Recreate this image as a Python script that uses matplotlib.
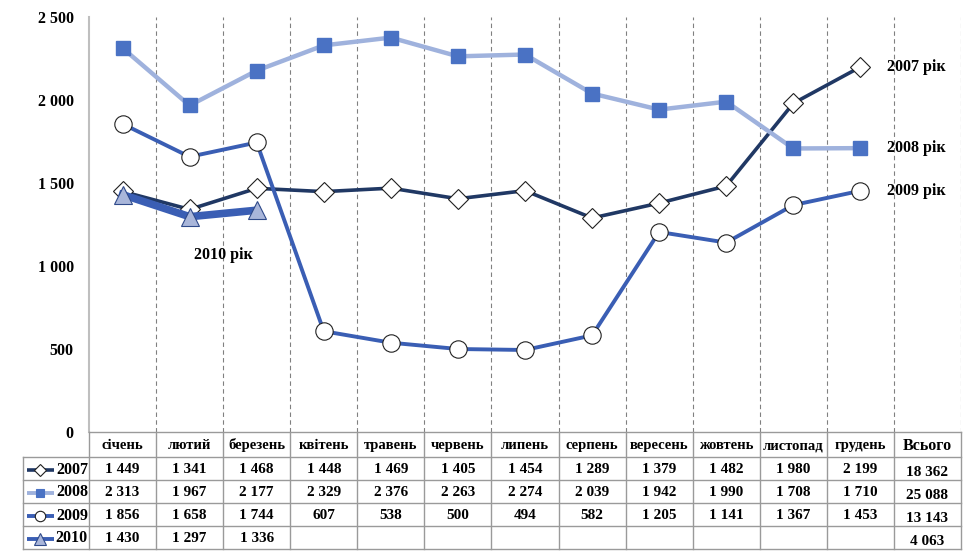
import matplotlib.pyplot as plt
import numpy as np

# дані
months = ['січень', 'лютий', 'березень', 'квітень', 'травень', 'червень',
          'липень', 'серпень', 'вересень', 'жовтень', 'листопад', 'грудень']
total_label = 'Всього'
years = ['2007', '2008', '2009', '2010']
v2007 = [1449, 1341, 1468, 1448, 1469, 1405, 1454, 1289, 1379, 1482, 1980, 2199]
v2008 = [2313, 1967, 2177, 2329, 2376, 2263, 2274, 2039, 1942, 1990, 1708, 1710]
v2009 = [1856, 1658, 1744, 607, 538, 500, 494, 582, 1205, 1141, 1367, 1453]
v2010 = [1430, 1297, 1336]
totals = [18362, 25088, 13143, 4063]
yticks = [0, 500, 1000, 1500, 2000, 2500]

def fmt(v):
    return '{:,}'.format(v).replace(',', ' ')

plt.rcParams['font.family'] = ['Liberation Serif', 'DejaVu Serif']
plt.rcParams['font.weight'] = 'bold'

W, H = 977, 557
fig = plt.figure(figsize=(W / 100, H / 100), dpi=100)

# розміщення (пікселі)
x0, x1 = 89, 961
ytop, ybot = 17, 432
ncol = 13
colw = (x1 - x0) / ncol

ax = fig.add_axes([x0 / W, 1 - ybot / H, (x1 - x0) / W, (ybot - ytop) / H])
ax.set_xlim(-0.5, ncol - 0.5)
ax.set_ylim(0, 2500)
ax.set_xticks([])
ax.set_yticks(yticks)
ax.set_yticklabels([fmt(v) for v in yticks], fontsize=11.5, fontweight='bold')
ax.tick_params(axis='y', length=0, pad=11)
for s in ['top', 'right', 'bottom']:
    ax.spines[s].set_visible(False)
ax.spines['left'].set_color('#BFBFBF')
ax.spines['left'].set_linewidth(1.5)
for i in range(1, ncol + 1):
    ax.axvline(i - 0.5, color='#808080', lw=0.8, ls=(0, (4, 3)), zorder=0)

styles = {
    '2007': dict(color='#203864', lw=2.6, marker='D', ms=10, mfc='white', mec='#202020', mew=0.8),
    '2008': dict(color='#9FB2DD', lw=3.2, marker='s', ms=9.5, mfc='#4A72C4', mec='#4A72C4'),
    '2009': dict(color='#3A5EB4', lw=2.8, marker='o', ms=12.5, mfc='white', mec='#202020', mew=0.8),
    '2010': dict(color='#3A5EB4', lw=5.5, marker='^', ms=13.5, mfc='#A9B6DA', mec='#2F4A8A', mew=0.8),
}
series = {'2007': v2007, '2008': v2008, '2009': v2009, '2010': v2010}
for y in years:
    vals = series[y]
    ax.plot(np.arange(len(vals)), vals, zorder=3, **styles[y])

# підписи серій
for y in ['2007', '2008', '2009']:
    ax.text(11.4, series[y][-1], y + ' рік', fontsize=11.5, fontweight='bold',
            va='center', ha='left')
ax.text(1.5, 1066, '2010 рік', fontsize=11.5, fontweight='bold', va='center', ha='center')

# таблиця даних
tab = fig.add_axes([0, 0, 1, 1])
tab.set_xlim(0, W)
tab.set_ylim(H, 0)
tab.axis('off')
gc = '#9A9A9A'
hx0 = 23
rows = [432, 457, 480, 503, 526, 549]
# горизонтальні лінії
tab.plot([x0, x1], [rows[0], rows[0]], color=gc, lw=1)
for r in rows[1:]:
    tab.plot([hx0, x1], [r, r], color=gc, lw=1)
# вертикальні лінії
tab.plot([hx0, hx0], [rows[1], rows[-1]], color=gc, lw=1)
for i in range(ncol + 1):
    xx = x0 + i * colw
    tab.plot([xx, xx], [rows[0], rows[-1]], color=gc, lw=1)

headers = months + [total_label]
for i, h in enumerate(headers):
    tab.text(x0 + (i + 0.5) * colw, (rows[0] + rows[1]) / 2 + 1, h,
             fontsize=11.5 if h == total_label else 10.5, fontweight='bold',
             ha='center', va='center')

for r, y in enumerate(years):
    yc = (rows[r + 1] + rows[r + 2]) / 2 + 1
    vals = series[y]
    for i, v in enumerate(vals):
        tab.text(x0 + (i + 0.5) * colw, yc, fmt(v), fontsize=11,
                 fontweight='bold', ha='center', va='center')
    tab.text(x0 + 12.5 * colw, yc + 3, fmt(totals[r]), fontsize=11,
             fontweight='bold', ha='center', va='center')
    # легенда в заголовку рядка
    st = styles[y]
    tab.plot([27, 54], [yc, yc], color=st['color'], lw=min(st['lw'], 2.8),
             solid_capstyle='butt')
    tab.plot([40], [yc], marker=st['marker'], ms=st['ms'] * 0.6,
             mfc=st['mfc'], mec=st['mec'], mew=0.8, ls='none')
    tab.text(88, yc, y, fontsize=11.5, fontweight='bold', ha='right', va='center')

fig.savefig('out.png', dpi=100)
